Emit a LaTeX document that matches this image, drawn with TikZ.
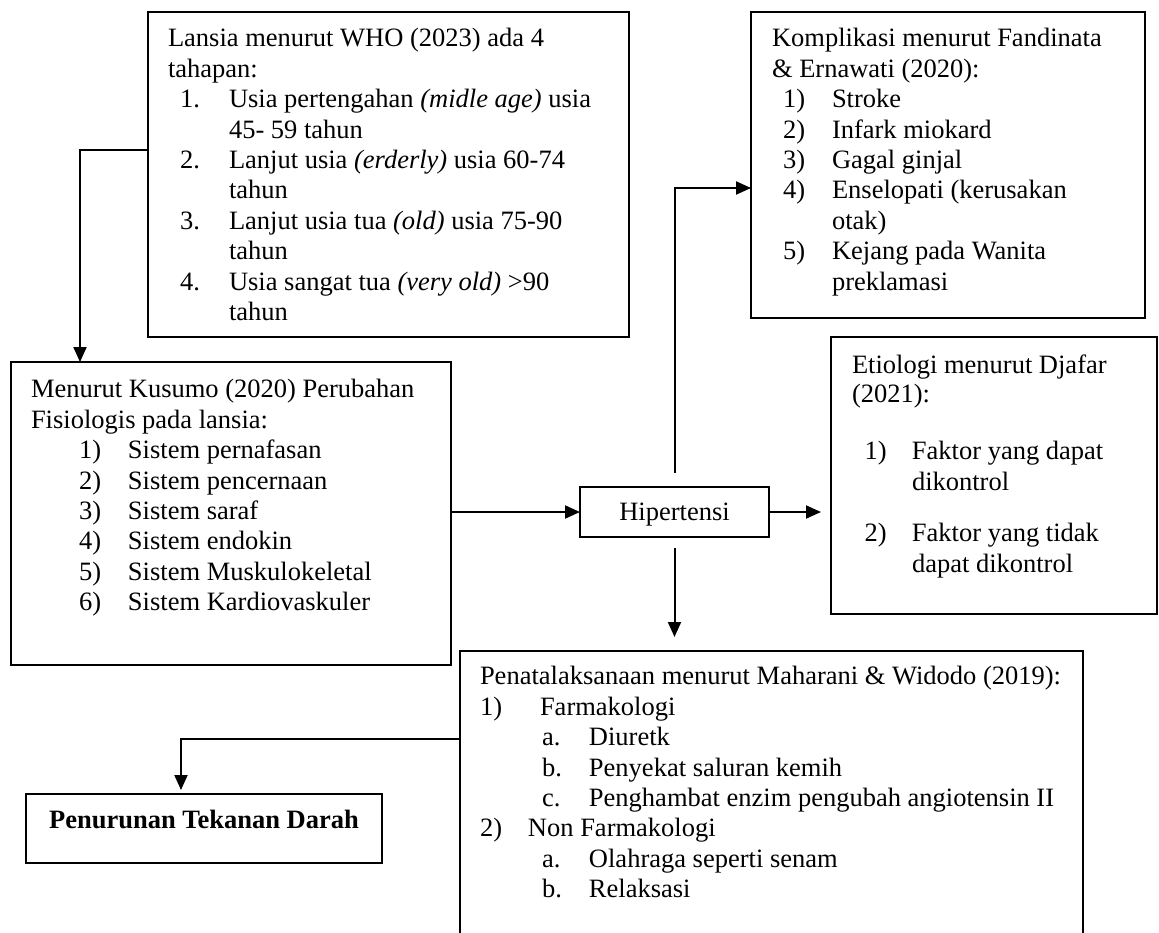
\documentclass[tikz,border=0pt]{standalone}
\usepackage{fontspec}
\setmainfont{Liberation Serif}
\usetikzlibrary{arrows.meta,calc}
\newcommand{\li}[3]{\strut\hspace*{#1pt}\makebox[#2pt][l]{#3}}
\newcommand{\lc}[1]{\strut\hspace*{#1pt}}
\begin{document}
\begin{tikzpicture}[x=1pt,y=-1pt,
  box/.style={draw, line width=2pt, inner sep=0pt, outer sep=0pt},
  txt/.style={anchor=north west, inner sep=0pt, outer sep=0pt, align=left,
    font=\fontsize{26.5}{30.4}\selectfont},
  arr/.style={line width=2pt, -{Triangle[length=15pt,width=13pt]}}]
\path[use as bounding box] (0,0) rectangle (1159,932);
\clip (0,0) rectangle (1159,932);

% boxes
\node[box, minimum width=481pt, minimum height=325pt] (who) at (388.5,174.5) {};
\node[box, minimum width=394pt, minimum height=306pt] (komp) at (948,165) {};
\node[box, minimum width=440pt, minimum height=303pt] (kus) at (231,513.5) {};
\node[box, minimum width=326pt, minimum height=277pt] (etio) at (994,475.5) {};
\node[box, minimum width=189pt, minimum height=50pt, text depth=0pt,
  font=\fontsize{26.5}{30.4}\selectfont] (hip) at (674.5,512) {Hipertensi};
\node[box, minimum width=623pt, minimum height=298pt] (pena) at (771.5,800) {};
\node[box, minimum width=356pt, minimum height=69pt] (pen) at (204,828.5) {};

% texts (top = first baseline - 21.28)
\node[txt] (whotxt) at (168,25.7) {\strut Lansia menurut WHO (2023) ada 4\\
\strut tahapan:\\
\li{12}{49}{1.}Usia pertengahan \textit{(midle age)} usia\\
\lc{61}45- 59 tahun\\
\li{12}{49}{2.}Lanjut usia \textit{(erderly)} usia 60-74\\
\lc{61}tahun\\
\li{12}{49}{3.}Lanjut usia tua \textit{(old)} usia 75-90\\
\lc{61}tahun\\
\li{12}{49}{4.}Usia sangat tua \textit{(very old)} >90\\
\lc{61}tahun};

\node[txt] (komptxt) at (772,25.7) {\strut Komplikasi menurut Fandinata\\
\strut\& Ernawati (2020):\\
\li{11}{49}{1)}Stroke\\
\li{11}{49}{2)}Infark miokard\\
\li{11}{49}{3)}Gagal ginjal\\
\li{11}{49}{4)}Enselopati (kerusakan\\
\lc{60}otak)\\
\li{11}{49}{5)}Kejang pada Wanita\\
\lc{60}preklamasi};

\node[txt] (kustxt) at (31,376.7) {\strut Menurut Kusumo (2020) Perubahan\\
\strut Fisiologis pada lansia:\\
\li{48}{49}{1)}Sistem pernafasan\\
\li{48}{49}{2)}Sistem pencernaan\\
\li{48}{49}{3)}Sistem saraf\\
\li{48}{49}{4)}Sistem endokin\\
\li{48}{49}{5)}Sistem Muskulokeletal\\
\li{48}{49}{6)}Sistem Kardiovaskuler};

\node[txt, font=\fontsize{26.5}{29.4}\selectfont] (etiotxt) at (852,352.6) {\strut Etiologi menurut Djafar\\
\strut (2021):};
\node[txt] (etio1) at (852,438.7) {\li{12.5}{47.5}{1)}Faktor yang dapat\\
\lc{60}dikontrol};
\node[txt] (etio2) at (852,520.7) {\li{12.5}{47.5}{2)}Faktor yang tidak\\
\lc{60}dapat dikontrol};

\node[txt] (penatxt) at (480,663.7) {\strut Penatalaksanaan menurut Maharani \& Widodo (2019):\\
\li{0}{60}{1)}Farmakologi\\
\li{62}{47}{a.}Diuretk\\
\li{62}{47}{b.}Penyekat saluran kemih\\
\li{62}{47}{c.}Penghambat enzim pengubah angiotensin II\\
\li{0}{48}{2)}Non Farmakologi\\
\li{62}{47}{a.}Olahraga seperti senam\\
\li{62}{47}{b.}Relaksasi};

\node[anchor=base, inner sep=0pt, font=\fontsize{26.5}{30.4}\selectfont\bfseries]
  (pentxt) at ($(pen.north)+(0,34)$) {Penurunan Tekanan Darah};

% connectors
\draw[arr] ($(who.north west)+(0,138)$) -| ($(kus.north west)+(69,0)$);
\draw[arr] (kus.east |- hip.west) -- (hip.west);
\draw[arr, shorten >=10pt] (hip.east) -- (hip.east -| etio.west);
\draw[arr, shorten <=14pt] (hip.north) |- ($(komp.north west)+(0,176)$);
\draw[arr, shorten <=11pt, shorten >=14pt] (hip.south) -- (hip.south |- pena.north);
\draw[arr, shorten >=4pt] ($(pena.north west)+(0,88)$) -| ($(pen.north west)+(155,0)$);
\end{tikzpicture}
\end{document}
